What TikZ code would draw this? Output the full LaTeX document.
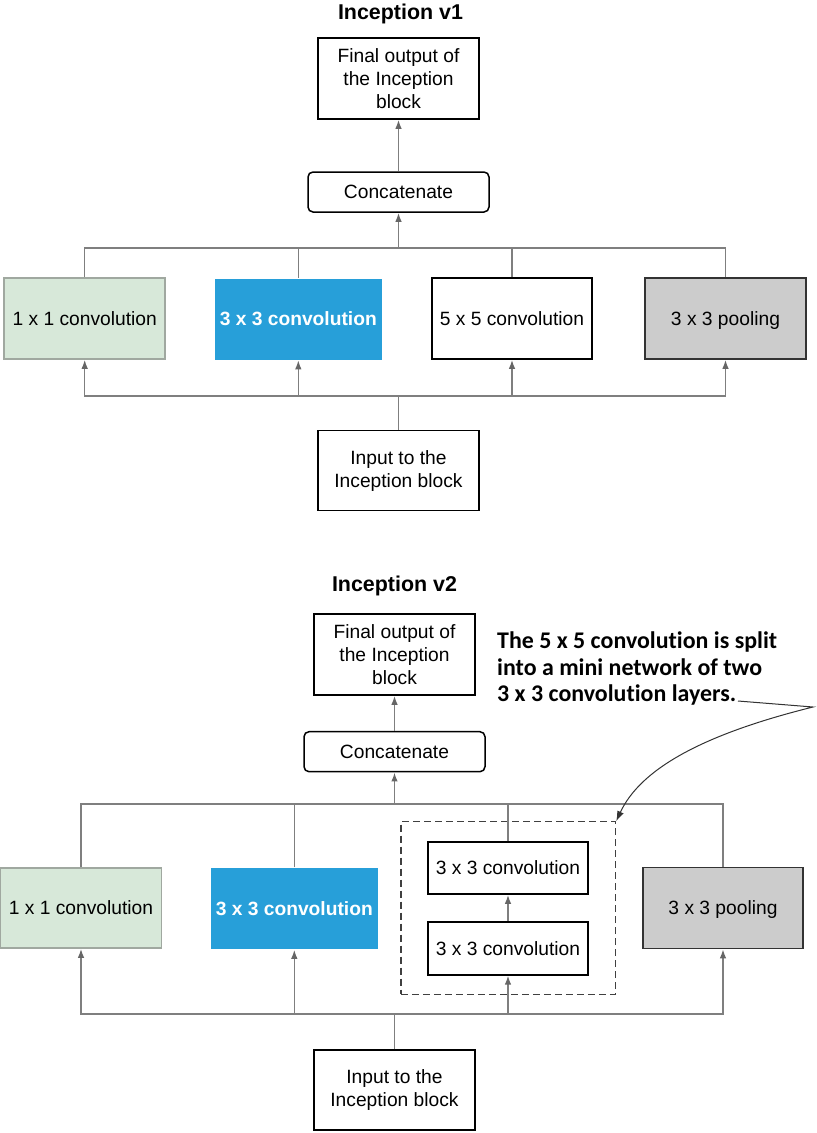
\documentclass[tikz,border=0pt]{standalone}
\usepackage{fontspec}
\setmainfont{Liberation Sans}
\newfontfamily\notefont[Ligatures=NoCommon]{Carlito}
\usepackage{tikz}
\usetikzlibrary{calc}
\usetikzlibrary{arrows.meta}
\definecolor{busgray}{HTML}{7F7F7F}
\definecolor{tipgray}{HTML}{666666}
\definecolor{convblue}{HTML}{279FD9}
\definecolor{convgreen}{HTML}{D7E8D9}
\definecolor{greenline}{HTML}{A0A8A0}
\definecolor{poolgray}{HTML}{CCCCCC}
\definecolor{poolline}{HTML}{333333}
\newcommand{\boxfont}{\fontsize{19.3}{23}\selectfont}
\tikzset{>={Latex[length=9bp,width=6bp]}}
\tikzstyle{title} = [font=\bfseries\fontsize{21.5}{25}\selectfont]
\tikzstyle{box} = [rectangle, draw=black, line width=1.5bp, align=center, inner sep=0pt, font=\boxfont]
\tikzstyle{one} = [text height=15bp, text depth=1.2bp]
\tikzstyle{big} = [minimum width=161bp, minimum height=81bp]
\tikzstyle{blue} = [draw=none, fill=convblue, text=white, font=\bfseries\boxfont, minimum width=167bp]
\tikzstyle{green} = [draw=greenline, fill=convgreen]
\tikzstyle{pool} = [draw=poolline, fill=poolgray]
\tikzstyle{bus} = [draw=busgray, line width=1.5bp, arrows={-{Latex[length=9bp,width=6.5bp,color=tipgray]}}]
\tikzstyle{line} = [draw=busgray, line width=1.5bp]
\tikzstyle{note} = [font=\notefont\bfseries\fontsize{24}{26.5}\selectfont, align=left, inner sep=0pt]

\begin{document}
\begin{tikzpicture}[x=1bp, y=-1bp]
\useasboundingbox (0,0) rectangle (817,1133);
% Inception v1
\node [title] (T1) at (400.5,14) {Inception v1};
\node [box, big] (O1) at (398.5,78.5) {Final output of\\the Inception\\block};
\node [box, one, rounded corners=5bp, minimum width=181bp, minimum height=40bp] (C1) at (398.5,192) {Concatenate};
\node [box, one, big, green] (A1) at (84.7,318.5) {1 x 1 convolution};
\node [box, one, big, blue] (B1) at (298.3,319) {3 x 3 convolution};
\node [box, one, big, minimum width=160bp] (D1) at (512,318.5) {5 x 5 convolution};
\node [box, one, big, pool] (P1) at (725.5,318.5) {3 x 3 pooling};
\node [box, big, minimum height=80bp] (I1) at (398.5,470.7) {Input to the\\Inception block};
\coordinate (U1) at (398.5,248);
\coordinate (L1) at (398.5,396);
\draw [line] (A1.north) |- (U1) -| (P1.north);
\draw [line] (B1.north) -- (B1.north |- U1);
\draw [line] (D1.north) -- (D1.north |- U1);
\draw [bus] (U1) -- (C1.south);
\draw [bus] (C1.north) -- (O1.south);
\draw [line] (I1.north) -- (L1);
\draw [bus] (L1) -| (A1.south);
\draw [bus] (L1) -| (P1.south);
\draw [bus] (L1 -| B1.south) -- (B1.south);
\draw [bus] (L1 -| D1.south) -- (D1.south);
% Inception v2
\node [title] (T2) at (394.5,586) {Inception v2};
\node [box, big] (O2) at (394.5,654.5) {Final output of\\the Inception\\block};
\node [box, one, rounded corners=5bp, minimum width=181bp, minimum height=40bp] (C2) at (394.5,751.7) {Concatenate};
\node [box, one, big, minimum height=80bp, green] (A2) at (81,908) {1 x 1 convolution};
\node [box, one, big, blue] (B2) at (294.3,908.5) {3 x 3 convolution};
\node [draw=black!75, dashed, dash pattern=on 7bp off 4bp, line width=1.2bp, minimum width=214.7bp, minimum height=172.6bp, inner sep=0pt] (M2) at (508.3,908) {};
\node [box, one, minimum width=160bp, minimum height=52bp] (E2) at (508,868) {3 x 3 convolution};
\node [box, one, minimum width=160bp, minimum height=53bp] (F2) at (508,948.3) {3 x 3 convolution};
\node [box, one, big, pool, minimum width=160bp] (P2) at (723,908) {3 x 3 pooling};
\node [box, big, minimum height=80bp] (I2) at (394.5,1090) {Input to the\\Inception block};
\node [note, anchor=north west] (N2) at (497,632) {The 5 x 5 convolution is split\\into a mini network of two\\3 x 3 convolution layers.};
\coordinate (U2) at (394.5,804);
\coordinate (L2) at (394.5,1014);
\draw [line] (A2.north) |- (U2) -| (P2.north);
\draw [line] (B2.north) -- (B2.north |- U2);
\draw [line] (E2.north) -- (E2.north |- U2);
\draw [bus] (U2) -- (C2.south);
\draw [bus] (C2.north) -- (O2.south);
\draw [bus] (F2.north) -- (E2.south);
\draw [line] (I2.north) -- (L2);
\draw [bus] (L2) -| (A2.south);
\draw [bus] (L2) -| (P2.south);
\draw [bus] (L2 -| B2.south) -- (B2.south);
\draw [bus] (L2 -| F2.south) -- (F2.south);
\coordinate (S2) at (738,701);
\coordinate (K2) at (813,707);
\draw [draw=black!80, line width=1bp, -{Latex[length=10bp,width=7bp]}] (S2) -- (K2) .. controls (700,735) and (640,770) .. (M2.north east);
\end{tikzpicture}
\end{document}
